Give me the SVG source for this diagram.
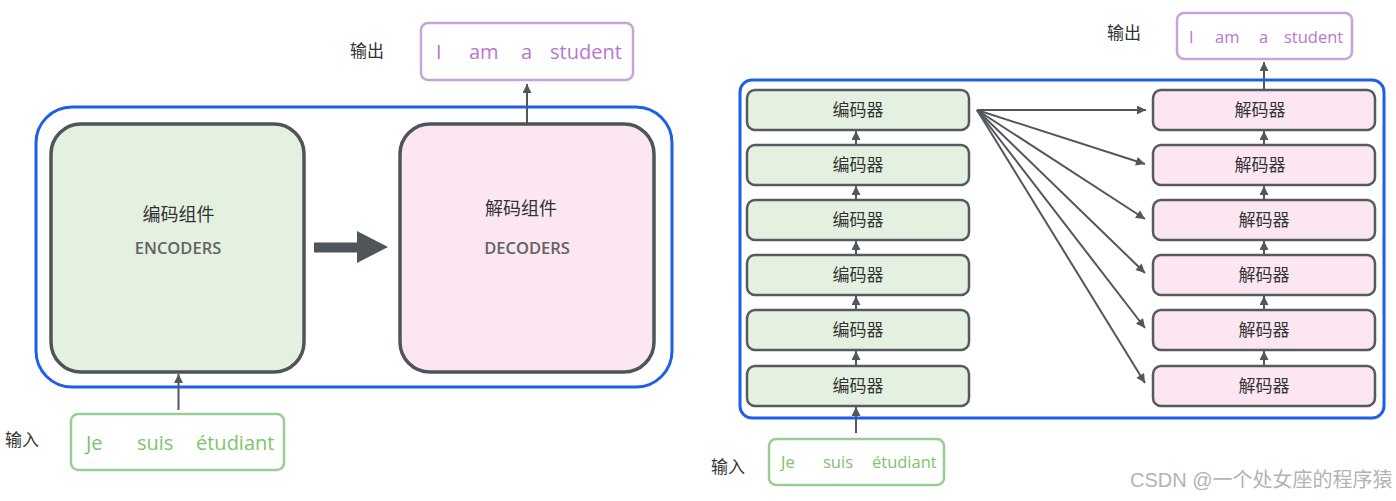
<svg xmlns="http://www.w3.org/2000/svg" width="1396" height="501" viewBox="0 0 1396 501">
<style>
.cjk{font-family:"Noto Sans CJK SC","Noto Sans",sans-serif;fill:#333}
.lat{font-family:"Open Sans","Noto Sans",sans-serif}
.big{stroke:#4f5459;stroke-width:3.5}
.enc{fill:#e4f1e0}
.dec{fill:#fbe6f1}
.sm{stroke:#555a5f;stroke-width:2.5}
.blue{fill:none;stroke:#1d5fe6;stroke-width:3}
.out{fill:#fff;stroke:#c9a2d9;stroke-width:2.5}
.in{fill:#fff;stroke:#9acd94;stroke-width:2.5}
.outt{fill:#b777d1}
.int{fill:#7cc46b}
.con{stroke:#52575c;stroke-width:2;fill:none}
.cap{font-size:16.5px;font-weight:600;fill:#626262}
</style>
<defs>
<marker id="ah" viewBox="0 0 10 10" refX="10" refY="5" markerWidth="10" markerHeight="9" markerUnits="userSpaceOnUse" orient="auto">
<path d="M0,0 L10,5 L0,10 z" fill="#52575c"/>
</marker>
</defs>
<rect width="1396" height="501" fill="#fff"/>

<!-- LEFT -->
<rect class="blue" x="36" y="107" width="636" height="280" rx="36"/>
<g id="encoders">
<rect class="enc big" x="51" y="124" width="253" height="248" rx="30"/>
<text class="cjk" x="178.5" y="221" font-size="18" text-anchor="middle">编码组件</text>
<text class="lat cap" x="178" y="254" text-anchor="middle">ENCODERS</text>
</g>
<g id="decoders">
<rect class="dec big" x="400" y="124" width="254" height="248" rx="30"/>
<text class="cjk" x="521" y="215" font-size="18" text-anchor="middle">解码组件</text>
<text class="lat cap" x="527" y="254" text-anchor="middle">DECODERS</text>
</g>
<g id="out-left">
<text class="cjk" x="367" y="57" font-size="17" text-anchor="middle">输出</text>
<rect class="out" x="421" y="23" width="212" height="57" rx="7"/>
<text class="lat outt" font-size="20" y="59"><tspan x="436">I</tspan><tspan x="469">am</tspan><tspan x="521">a</tspan><tspan x="550">student</tspan></text>
</g>
<g id="in-left">
<text class="cjk" x="22" y="446" font-size="17" text-anchor="middle">输入</text>
<rect class="in" x="71" y="414" width="213" height="56" rx="7"/>
<text class="lat int" font-size="20" y="450"><tspan x="86">Je</tspan><tspan x="137">suis</tspan><tspan x="196">étudiant</tspan></text>
</g>

<!-- RIGHT -->
<rect class="blue" x="740" y="80" width="644" height="338" rx="12"/>
<g id="out-right">
<text class="cjk" x="1124" y="39" font-size="17" text-anchor="middle">输出</text>
<rect class="out" x="1177" y="13" width="175" height="46" rx="7"/>
<text class="lat outt" font-size="16.5" y="43"><tspan x="1189">I</tspan><tspan x="1215">am</tspan><tspan x="1259">a</tspan><tspan x="1284">student</tspan></text>
</g>
<g id="in-right">
<text class="cjk" x="728" y="473" font-size="17" text-anchor="middle">输入</text>
<rect class="in" x="769" y="439" width="175" height="46" rx="7"/>
<text class="lat int" font-size="16.5" y="468"><tspan x="781">Je</tspan><tspan x="823">suis</tspan><tspan x="872">étudiant</tspan></text>
</g>
<g id="enc1"><rect class="enc sm" x="747" y="90" width="222" height="40" rx="8"/><text class="cjk" x="858" y="116" font-size="17" text-anchor="middle">编码器</text></g>
<g id="enc2"><rect class="enc sm" x="747" y="145" width="222" height="40" rx="8"/><text class="cjk" x="858" y="171" font-size="17" text-anchor="middle">编码器</text></g>
<g id="enc3"><rect class="enc sm" x="747" y="200" width="222" height="40" rx="8"/><text class="cjk" x="858" y="226" font-size="17" text-anchor="middle">编码器</text></g>
<g id="enc4"><rect class="enc sm" x="747" y="255" width="222" height="40" rx="8"/><text class="cjk" x="858" y="281" font-size="17" text-anchor="middle">编码器</text></g>
<g id="enc5"><rect class="enc sm" x="747" y="310" width="222" height="40" rx="8"/><text class="cjk" x="858" y="336" font-size="17" text-anchor="middle">编码器</text></g>
<g id="enc6"><rect class="enc sm" x="747" y="366" width="222" height="40" rx="8"/><text class="cjk" x="858" y="392" font-size="17" text-anchor="middle">编码器</text></g>
<g id="dec1"><rect class="dec sm" x="1153" y="90" width="222" height="40" rx="8"/><text class="cjk" x="1260" y="116" font-size="17" text-anchor="middle">解码器</text></g>
<g id="dec2"><rect class="dec sm" x="1153" y="145" width="222" height="40" rx="8"/><text class="cjk" x="1260" y="171" font-size="17" text-anchor="middle">解码器</text></g>
<g id="dec3"><rect class="dec sm" x="1153" y="200" width="222" height="40" rx="8"/><text class="cjk" x="1264" y="226" font-size="17" text-anchor="middle">解码器</text></g>
<g id="dec4"><rect class="dec sm" x="1153" y="255" width="222" height="40" rx="8"/><text class="cjk" x="1264" y="281" font-size="17" text-anchor="middle">解码器</text></g>
<g id="dec5"><rect class="dec sm" x="1153" y="310" width="222" height="40" rx="8"/><text class="cjk" x="1264" y="336" font-size="17" text-anchor="middle">解码器</text></g>
<g id="dec6"><rect class="dec sm" x="1153" y="366" width="222" height="40" rx="8"/><text class="cjk" x="1264" y="392" font-size="17" text-anchor="middle">解码器</text></g>

<g id="connectors">
<path d="M314,242.5 H357 V231 L388,247 L357,263 V252.5 H314 z" fill="#50555a"/>
<path class="con" d="M527,123 V84" stroke-width="3" marker-end="url(#ah)"/>
<path class="con" d="M178.5,410 V374" stroke-width="3" marker-end="url(#ah)"/>
<path class="con" d="M1264,89 V62" marker-end="url(#ah)"/>
<path class="con" d="M856,433 V407" marker-end="url(#ah)"/>
<path class="con" d="M856,365 V351" marker-end="url(#ah)"/>
<path class="con" d="M856,309 V296" marker-end="url(#ah)"/>
<path class="con" d="M856,254 V241" marker-end="url(#ah)"/>
<path class="con" d="M856,199 V186" marker-end="url(#ah)"/>
<path class="con" d="M856,144 V131" marker-end="url(#ah)"/>
<path class="con" d="M1264,365 V351" marker-end="url(#ah)"/>
<path class="con" d="M1264,309 V296" marker-end="url(#ah)"/>
<path class="con" d="M1264,254 V241" marker-end="url(#ah)"/>
<path class="con" d="M1264,199 V186" marker-end="url(#ah)"/>
<path class="con" d="M1264,144 V131" marker-end="url(#ah)"/>
<path class="con" d="M977,110 L1146,110" marker-end="url(#ah)"/>
<path class="con" d="M977,110 L1145,164" marker-end="url(#ah)"/>
<path class="con" d="M977,110 L1145,219" marker-end="url(#ah)"/>
<path class="con" d="M977,110 L1145,273" marker-end="url(#ah)"/>
<path class="con" d="M977,110 L1145,328" marker-end="url(#ah)"/>
<path class="con" d="M977,110 L1145,383" marker-end="url(#ah)"/>
</g>

<text x="1130" y="487" font-family="Liberation Sans,&quot;Noto Sans CJK SC&quot;,sans-serif" font-size="20" fill="#b3b3b3">CSDN @一个处女座的程序猿</text>
</svg>
